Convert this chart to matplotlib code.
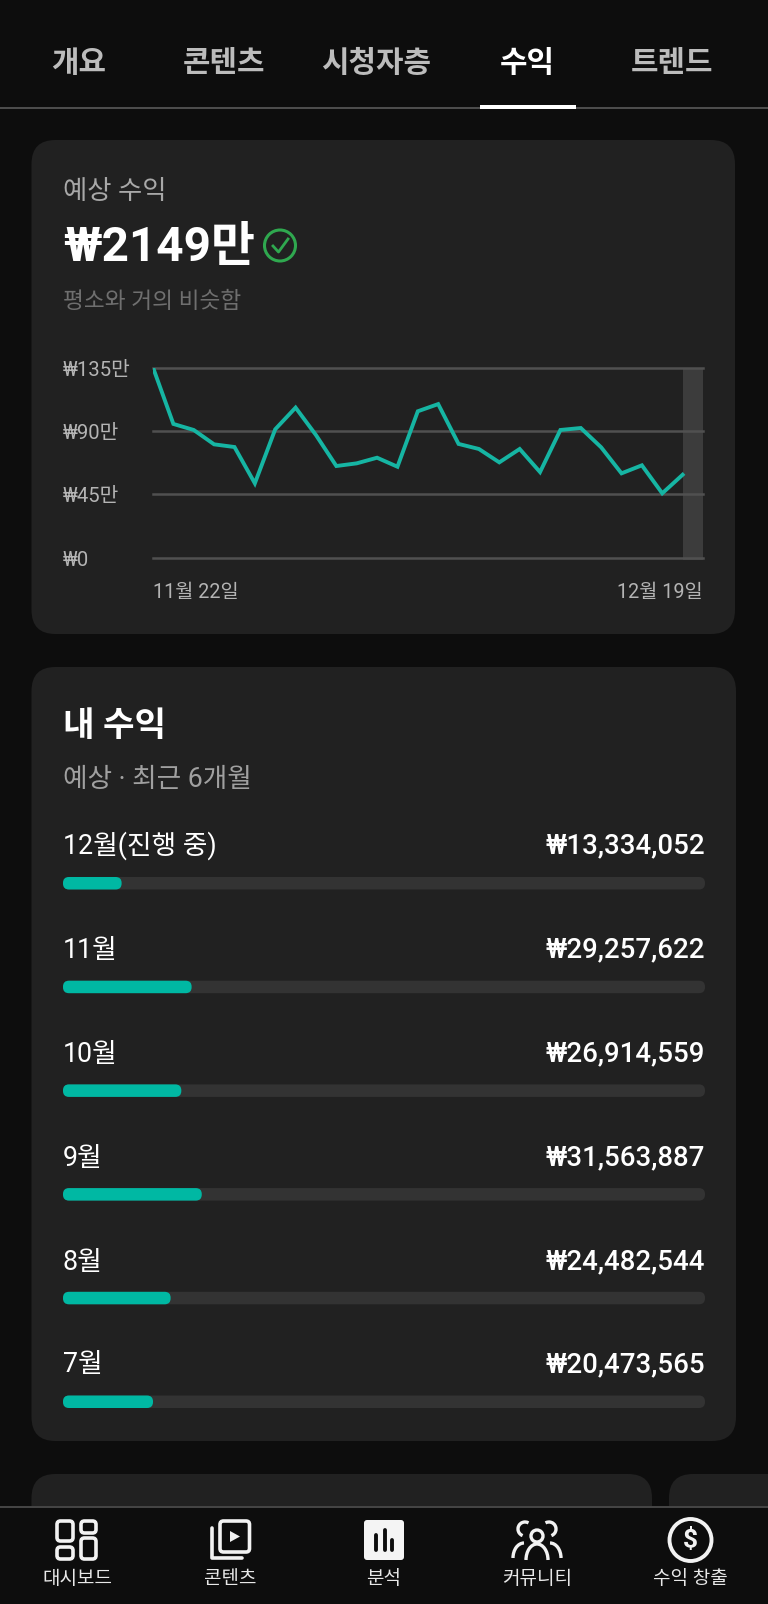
import matplotlib
matplotlib.use("Agg")
from matplotlib import pyplot as plt
from matplotlib.patches import FancyBboxPatch, Rectangle, Circle, Polygon, Arc
from matplotlib.transforms import ScaledTranslation
import numpy as np

W, H = 768, 1604
plt.rcParams['font.family'] = ['Roboto', 'Noto Sans CJK KR', 'DejaVu Sans']

# ... data
tabs = ["개요", "콘텐츠", "시청자층", "수익", "트렌드"]
nav_labels = ["대시보드", "콘텐츠", "분석", "커뮤니티", "수익 창출"]

daily_revenue = [135, 94.9, 90.6, 80.4, 78.5, 52.7, 91.1, 106.5, 87, 65, 66.9, 70.9, 64.5, 103.9,
                 109, 80.7, 77.1, 67.6, 77.1, 60.7, 90.6, 92, 78.3, 59.8, 65.5, 45.6, 58.8]
y_ticks = [0, 45, 90, 135]
y_tick_labels = ["₩0", "₩45만", "₩90만", "₩135만"]
date_labels = ["11월 22일", "12월 19일"]

months = ["12월(진행 중)", "11월", "10월", "9월", "8월", "7월"]
month_revenue = [13334052, 29257622, 26914559, 31563887, 24482544, 20473565]
# ...

BG = "#0d0d0d"
CARD = "#212121"
TEAL = "#00b8a3"
LINE = "#16b5a3"
GRAY = "#b4b4b4"

fig = plt.figure(figsize=(W / 100, H / 100), dpi=100, facecolor=BG)

# ... page canvas in pixels, y going down
page = fig.add_axes([0, 0, 1, 1])
page.set_xlim(0, W)
page.set_ylim(H, 0)
page.axis("off")


def card(x0, y0, x1, y1, r=24):
    page.add_patch(FancyBboxPatch((x0, y0), x1 - x0, y1 - y0, boxstyle=f"round,pad=0,rounding_size={r}",
                                  fc=CARD, ec="none", zorder=1))


def label(x, y, s, size, color="white", ha="left", weight="normal"):
    page.text(x, y, s, fontsize=size, color=color, ha=ha, va="center", weight=weight, zorder=5)


# ... tabs
tab_x = [79, 224, 376, 527, 672]
for i, s in enumerate(tabs):
    label(tab_x[i], 64, s, 21.5, "white" if i == 3 else "#bcbcbc", ha="center", weight="bold")
page.add_patch(Rectangle((0, 106.5), W, 2, fc="#4c4c4c", ec="none", zorder=2))
page.add_patch(Rectangle((480, 105), 96, 4, fc="white", ec="none", zorder=3))

# ... cards
card(31.5, 140, 735, 634)
card(31.5, 667, 736, 1441)
card(31.5, 1474, 652, 1600)
card(669, 1474, 800, 1600)

# ... estimated revenue card
label(63, 192, "예상 수익", 19, "#a8a8a8")
label(63, 248, "₩2149만", 34.4, "white", weight="bold")
page.add_patch(Circle((280, 245.5), 15.5, fc="none", ec="#2fa84f", lw=2.2, zorder=5))
page.plot([273, 278.5, 288], [246, 252, 239], color="#2fa84f", lw=2, zorder=5)
label(63, 301.5, "평소와 거의 비슷함", 16.3, "#6f6f6f")

# ... line chart
ax = fig.add_axes([153 / W, 1 - 557.5 / H, 550 / W, 190 / H])
ax.patch.set_alpha(0)
ax.set_xlim(0, 27)
ax.set_ylim(0, 135)
ax.axvspan(26, 27, ymin=-0.012, ymax=1, color="#3c3c3c", lw=0, clip_on=False, zorder=1)
ax.plot(range(len(daily_revenue)), daily_revenue, color=LINE, lw=2.8, solid_joinstyle="miter", zorder=3)
ax.grid(axis="y", color="#505050", lw=1.8, zorder=2)
ax.set_axisbelow(False)
for s in ax.spines.values():
    s.set_visible(False)
ax.set_yticks(y_ticks)
ax.set_yticklabels(y_tick_labels, ha="left", fontsize=14.6, color=GRAY)
ax.tick_params(axis="y", length=0, pad=(153 - 63) * 0.72)
down = ScaledTranslation(0, -0.4 / 72, fig.dpi_scale_trans)
for t in ax.get_yticklabels():
    t.set_transform(t.get_transform() + down)
for g in ax.get_ygridlines():
    g.set_clip_on(False)
ax.set_xticks([0, 27])
ax.set_xticklabels(date_labels, fontsize=14.2, color=GRAY)
ax.get_xticklabels()[0].set_ha("left")
ax.get_xticklabels()[1].set_ha("right")
ax.tick_params(axis="x", length=0, pad=18.5)

# ... my revenue card
label(63, 727, "내 수익", 24.7, "white", weight="bold")
label(63, 779.5, "예상 · 최근 6개월", 19.2, "#a0a0a0")

row_text_y = [846, 950, 1054, 1158, 1262, 1365]
for i, s in enumerate(months):
    label(63, row_text_y[i], s, 19.3, "white")
    label(705, row_text_y[i], f"₩{month_revenue[i]:,}", 19.9, "white", ha="right", weight="medium")

# ... progress bars, each one a share of the six month total
total = sum(month_revenue)
bars = fig.add_axes([63 / W, 1 - 1408.5 / H, 642 / W, 532 / H])
bars.patch.set_alpha(0)
bars.set_xlim(0, total)
bars.set_ylim(5.065, -0.065)
bars.axis("off")
bar_h = 12.5 / 532 * 5.13
r_x = 6 / 642 * total
aspect = (5.13 / 532) / (total / 642)
for i, v in enumerate(month_revenue):
    bars.add_patch(FancyBboxPatch((0, i - bar_h / 2), total, bar_h, boxstyle=f"round,pad=0,rounding_size={r_x}",
                                  mutation_aspect=aspect, fc="#333333", ec="none"))
    bars.add_patch(FancyBboxPatch((0, i - bar_h / 2), v, bar_h, boxstyle=f"round,pad=0,rounding_size={r_x}",
                                  mutation_aspect=aspect, fc=TEAL, ec="none"))

# ... bottom navigation
page.add_patch(Rectangle((0, 1506), W, 98, fc=BG, ec="none", zorder=3))
page.add_patch(Rectangle((0, 1505.5), W, 2, fc="#444444", ec="none", zorder=4))
nav_x = [77, 230, 384, 537, 690.5]
for x, s in zip(nav_x, nav_labels):
    label(x, 1579, s, 13.7, "#e8e8e8", ha="center")


def outline(x0, y0, x1, y1, r=3.5, fc="none", ec="#f2f2f2", lw=2.6):
    page.add_patch(FancyBboxPatch((x0, y0), x1 - x0, y1 - y0, boxstyle=f"round,pad=0,rounding_size={r}",
                                  fc=fc, ec=ec, lw=lw, zorder=5))


# dashboard
outline(57, 1521, 73, 1541)
outline(81, 1521, 96, 1533)
outline(57, 1547, 73, 1559)
outline(81, 1538, 96, 1559)
# content
outline(220, 1521, 249.5, 1552)
page.plot([212, 212, 242], [1528, 1558, 1558], color="#f2f2f2", lw=2.6, zorder=5, solid_capstyle="round")
page.add_patch(Polygon([[230, 1531], [240, 1536.5], [230, 1542]], fc="#f2f2f2", ec="none", zorder=5))
# analytics
outline(364, 1520, 404, 1560, r=3, fc="#f4f4f4", ec="none", lw=0)
for bx, top in zip([376, 384.5, 392], [1535, 1530, 1540]):
    page.plot([bx, bx], [top, 1550], color=BG, lw=2.8, zorder=6, solid_capstyle="round")
# community
page.add_patch(Circle((537, 1536), 6, fc="none", ec="#f2f2f2", lw=2.4, zorder=5))
page.add_patch(Arc((537, 1560), 22, 32, theta1=180, theta2=360, ec="#f2f2f2", lw=2.4, zorder=5))
page.add_patch(Arc((524, 1558), 22, 30, theta1=180, theta2=270, ec="#f2f2f2", lw=2.4, zorder=5))
page.add_patch(Arc((550, 1558), 22, 30, theta1=270, theta2=360, ec="#f2f2f2", lw=2.4, zorder=5))
page.add_patch(Arc((525, 1529), 14, 14, theta1=110, theta2=300, ec="#f2f2f2", lw=2.4, zorder=5))
page.add_patch(Arc((549, 1529), 14, 14, theta1=240, theta2=70, ec="#f2f2f2", lw=2.4, zorder=5))
# money
page.add_patch(Circle((690.5, 1540), 21, fc="none", ec="#f2f2f2", lw=2.8, zorder=5))
page.text(690.5, 1540, "$", fontsize=19, color="#f2f2f2", ha="center", va="center", weight="bold", zorder=5)

plt.savefig("out.png", dpi=100, facecolor=BG)
